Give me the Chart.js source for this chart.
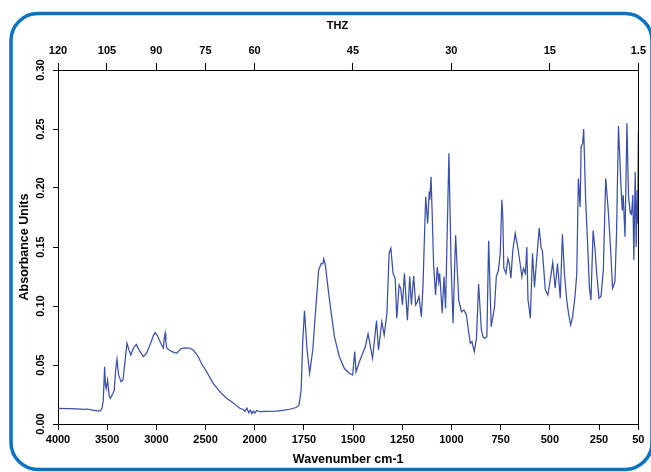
<!DOCTYPE html>
<html>
<head>
<meta charset="utf-8">
<script src="https://cdn.jsdelivr.net/npm/chart.js@4.4.0/dist/chart.umd.min.js"></script>
<style>
  html, body { margin: 0; padding: 0; background: #fff; }
  #wrap { width: 651px; height: 472px; position: relative; }
</style>
</head>
<body>
<div id="wrap"><canvas id="chartSpectrum"></canvas></div>
<script>
// spectrum (wavenumber cm-1 -> absorbance)
const wavenumbers = [
  4000, 3900, 3800, 3739, 3700, 3650, 3600, 3570, 3552, 3540, 3526, 3518, 3510, 3496, 3480, 3468,
  3440, 3428, 3415, 3400, 3385, 3360, 3340, 3320, 3299, 3280, 3259, 3235, 3205, 3170, 3131, 3100,
  3060, 3030, 3013, 2990, 2962, 2929, 2921, 2911, 2904, 2894, 2843, 2793, 2760, 2742, 2700, 2658,
  2625, 2574, 2540, 2489, 2422, 2380, 2337, 2290, 2236, 2190, 2152, 2120, 2100, 2080, 2060, 2045,
  2030, 2015, 2000, 1990, 1975, 1940, 1890, 1850, 1823, 1790, 1775, 1764, 1756, 1747, 1735, 1721,
  1705, 1688, 1675, 1662, 1654, 1649, 1641, 1620, 1595, 1570, 1544, 1520, 1502, 1492, 1485, 1468,
  1451, 1438, 1424, 1401, 1381, 1371, 1354, 1342, 1328, 1317, 1308, 1297, 1286, 1278, 1266, 1258,
  1249, 1239, 1224, 1212, 1204, 1192, 1182, 1173, 1165, 1153, 1145, 1131, 1121, 1113, 1110, 1104,
  1098, 1091, 1081, 1072, 1065, 1060, 1047, 1038, 1030, 1013, 1002, 992, 979, 963, 949, 937,
  924, 912, 904, 896, 884, 873, 862, 848, 840, 832, 820, 811, 798, 781, 772, 761,
  752, 744, 739, 734, 723, 713, 706, 698, 688, 676, 663, 651, 642, 634, 624, 617,
  611, 605, 599, 588, 578, 566, 554, 544, 538, 523, 510, 498, 485, 473, 461, 447,
  436, 426, 414, 405, 394, 384, 372, 363, 355, 346, 341, 333, 328, 318, 308, 299,
  291, 280, 270, 262, 250, 240, 228, 216, 203, 191, 181, 169, 161, 151, 139, 132,
  127, 118, 108, 100, 91, 88, 85, 78, 73, 66, 61, 56, 53, 50
];
const absorbance = [
  0.0133, 0.0130, 0.0128, 0.0125, 0.0127, 0.0118, 0.0112, 0.0112, 0.0135, 0.020, 0.0486, 0.033, 0.030, 0.0373, 0.024, 0.0218,
  0.026, 0.0288, 0.045, 0.055, 0.042, 0.0358, 0.0373, 0.052, 0.0684, 0.063, 0.0585, 0.064, 0.0675, 0.062, 0.057, 0.060,
  0.068, 0.075, 0.0774, 0.075, 0.0697, 0.0644, 0.072, 0.0769, 0.070, 0.0642, 0.0613, 0.0599, 0.0630, 0.0642, 0.0645, 0.0642,
  0.0627, 0.057, 0.051, 0.0443, 0.0345, 0.030, 0.026, 0.022, 0.0189, 0.016, 0.0133, 0.0125, 0.0108, 0.0135, 0.0095, 0.0118,
  0.0088, 0.0110, 0.0092, 0.0115, 0.0104, 0.0108, 0.0110, 0.0118, 0.0125, 0.0140, 0.0160, 0.029, 0.070, 0.096, 0.065, 0.043,
  0.0627, 0.102, 0.1305, 0.136, 0.1356, 0.140, 0.1347, 0.105, 0.074, 0.057, 0.047, 0.043, 0.0415, 0.0613, 0.0443, 0.0528,
  0.060, 0.0655, 0.0763, 0.0557, 0.0876, 0.0627, 0.0867, 0.0754, 0.0938, 0.1446, 0.149, 0.1277, 0.1235, 0.0896, 0.118, 0.115,
  0.101, 0.1277, 0.088, 0.125, 0.101, 0.1254, 0.101, 0.1036, 0.108, 0.091, 0.116, 0.1926, 0.170, 0.197, 0.19, 0.2096,
  0.1786, 0.136, 0.1093, 0.133, 0.1206, 0.1277, 0.0938, 0.125, 0.098, 0.2294, 0.136, 0.0853, 0.160, 0.105, 0.095, 0.0966,
  0.0924, 0.0769, 0.0684, 0.0698, 0.0613, 0.0726, 0.1186, 0.0797, 0.0740, 0.0726, 0.074, 0.1553, 0.0825, 0.0994, 0.125, 0.1305,
  0.1447, 0.19, 0.1757, 0.132, 0.1277, 0.140, 0.136, 0.1235, 0.1475, 0.1616, 0.150, 0.136, 0.125, 0.132, 0.1277, 0.150,
  0.105, 0.098, 0.0896, 0.1447, 0.116, 0.1418, 0.166, 0.149, 0.147, 0.1136, 0.1093, 0.122, 0.137, 0.115, 0.136, 0.1065,
  0.1608, 0.1277, 0.105, 0.0938, 0.0839, 0.091, 0.108, 0.1277, 0.208, 0.184, 0.235, 0.238, 0.25, 0.19, 0.153, 0.116,
  0.105, 0.164, 0.1475, 0.1277, 0.1065, 0.108, 0.1305, 0.208, 0.181, 0.1475, 0.115, 0.1206, 0.1616, 0.2525, 0.204, 0.181,
  0.194, 0.1587, 0.2548, 0.1926, 0.1786, 0.181, 0.177, 0.194, 0.139, 0.2138, 0.150, 0.198, 0.170, 0.247
];

// tick labels
const wnTicks = [4000, 3500, 3000, 2500, 2000, 1750, 1500, 1250, 1000, 750, 500, 250, 50];
const thzTicks = [120, 105, 90, 75, 60, 45, 30, 15, 1.5];
const absTicks = [0, 0.05, 0.1, 0.15, 0.2, 0.25, 0.3];

// x axis is compressed 2:1 above 2000 cm-1
const AXIS_MAX = 2950;
function toAxis(w) {
  return w >= 2000 ? (4000 - w) / 2 : 1000 + (2000 - w);
}
// 1 THz = 33.356 cm-1
function thzToAxis(t) {
  return Math.min(AXIS_MAX, Math.max(0, toAxis(t * 33.356)));
}

const points = wavenumbers.map((w, i) => ({ x: toAxis(w), y: absorbance[i] }));

const fontFamily = "'Liberation Sans', Arial, sans-serif";
const tickFont = { family: fontFamily, size: 11, weight: "bold" };
const titleFont = { family: fontFamily, size: 12.5, weight: "bold" };

// rounded blue frame + right edge of the plot box
const framePlugin = {
  id: "frame",
  beforeDraw(chart) {
    const ctx = chart.ctx;
    ctx.save();
    ctx.strokeStyle = "#0b73c2";
    ctx.lineWidth = 3.5;
    ctx.beginPath();
    ctx.roundRect(11, 13.5, 641, 456, 27);
    ctx.stroke();
    ctx.restore();
  },
  afterDraw(chart) {
    const a = chart.chartArea;
    const ctx = chart.ctx;
    ctx.save();
    ctx.strokeStyle = "#000";
    ctx.lineWidth = 1;
    ctx.beginPath();
    ctx.moveTo(Math.round(a.right) + 0.5, a.top);
    ctx.lineTo(Math.round(a.right) + 0.5, a.bottom);
    ctx.stroke();
    ctx.restore();
  },
};

const ctx = document.getElementById("chartSpectrum").getContext("2d");
const chartSpectrum = new Chart(ctx, {
  type: "line",
  data: {
    datasets: [
      {
        data: points,
        xAxisID: "x",
        yAxisID: "y",
        borderColor: "#3a4fa8",
        borderWidth: 1.25,
        pointRadius: 0,
        tension: 0,
        fill: false,
      },
    ],
  },
  options: {
    responsive: true,
    maintainAspectRatio: false,
    animation: false,
    events: [],
    layout: { padding: { left: 0, right: 10.5, top: 0, bottom: 0 } },
    plugins: { legend: { display: false }, tooltip: { enabled: false } },
    scales: {
      x: {
        type: "linear",
        position: "bottom",
        min: 0,
        max: AXIS_MAX,
        afterBuildTicks: (s) => {
          s.ticks = wnTicks.map((w) => ({ value: toAxis(w) }));
        },
        afterFit: (s) => {
          s.height = 48;
        },
        ticks: {
          autoSkip: false,
          maxRotation: 0,
          padding: 3,
          color: "#000",
          font: tickFont,
          callback: (v, i) => wnTicks[i],
        },
        grid: { drawOnChartArea: false, tickLength: 6, tickColor: "#000" },
        border: { color: "#000", width: 1 },
        title: {
          display: true,
          text: "Wavenumber cm-1",
          color: "#000",
          font: titleFont,
          padding: { top: 0, bottom: 5 },
        },
      },
      x2: {
        type: "linear",
        position: "top",
        min: 0,
        max: AXIS_MAX,
        afterBuildTicks: (s) => {
          s.ticks = thzTicks.map((t) => ({ value: thzToAxis(t) }));
        },
        afterFit: (s) => {
          s.height = 70;
        },
        ticks: {
          autoSkip: false,
          maxRotation: 0,
          padding: 5,
          color: "#000",
          font: tickFont,
          callback: (v, i) => thzTicks[i],
        },
        grid: { drawOnChartArea: false, tickLength: 7, tickColor: "#000" },
        border: { color: "#000", width: 1 },
        title: {
          display: true,
          // trailing spaces pull the centred label a little left, as in the original
          text: "THZ\u00a0\u00a0\u00a0\u00a0\u00a0\u00a0\u00a0",
          color: "#000",
          font: tickFont,
          padding: { top: 19, bottom: 0 },
        },
      },
      y: {
        type: "linear",
        position: "left",
        min: 0,
        max: 0.3,
        afterBuildTicks: (s) => {
          s.ticks = absTicks.map((v) => ({ value: v }));
        },
        afterFit: (s) => {
          s.width = 58;
        },
        ticks: {
          minRotation: 90,
          maxRotation: 90,
          crossAlign: "center",
          padding: 1,
          color: "#000",
          font: tickFont,
          callback: (v) => v.toFixed(2),
        },
        grid: { drawOnChartArea: false, tickLength: 5, tickColor: "#000" },
        border: { color: "#000", width: 1 },
        title: {
          display: true,
          text: "Absorbance Units",
          color: "#000",
          font: titleFont,
          padding: { top: 17, bottom: 0 },
        },
      },
    },
  },
  plugins: [framePlugin],
});
</script>
</body>
</html>
